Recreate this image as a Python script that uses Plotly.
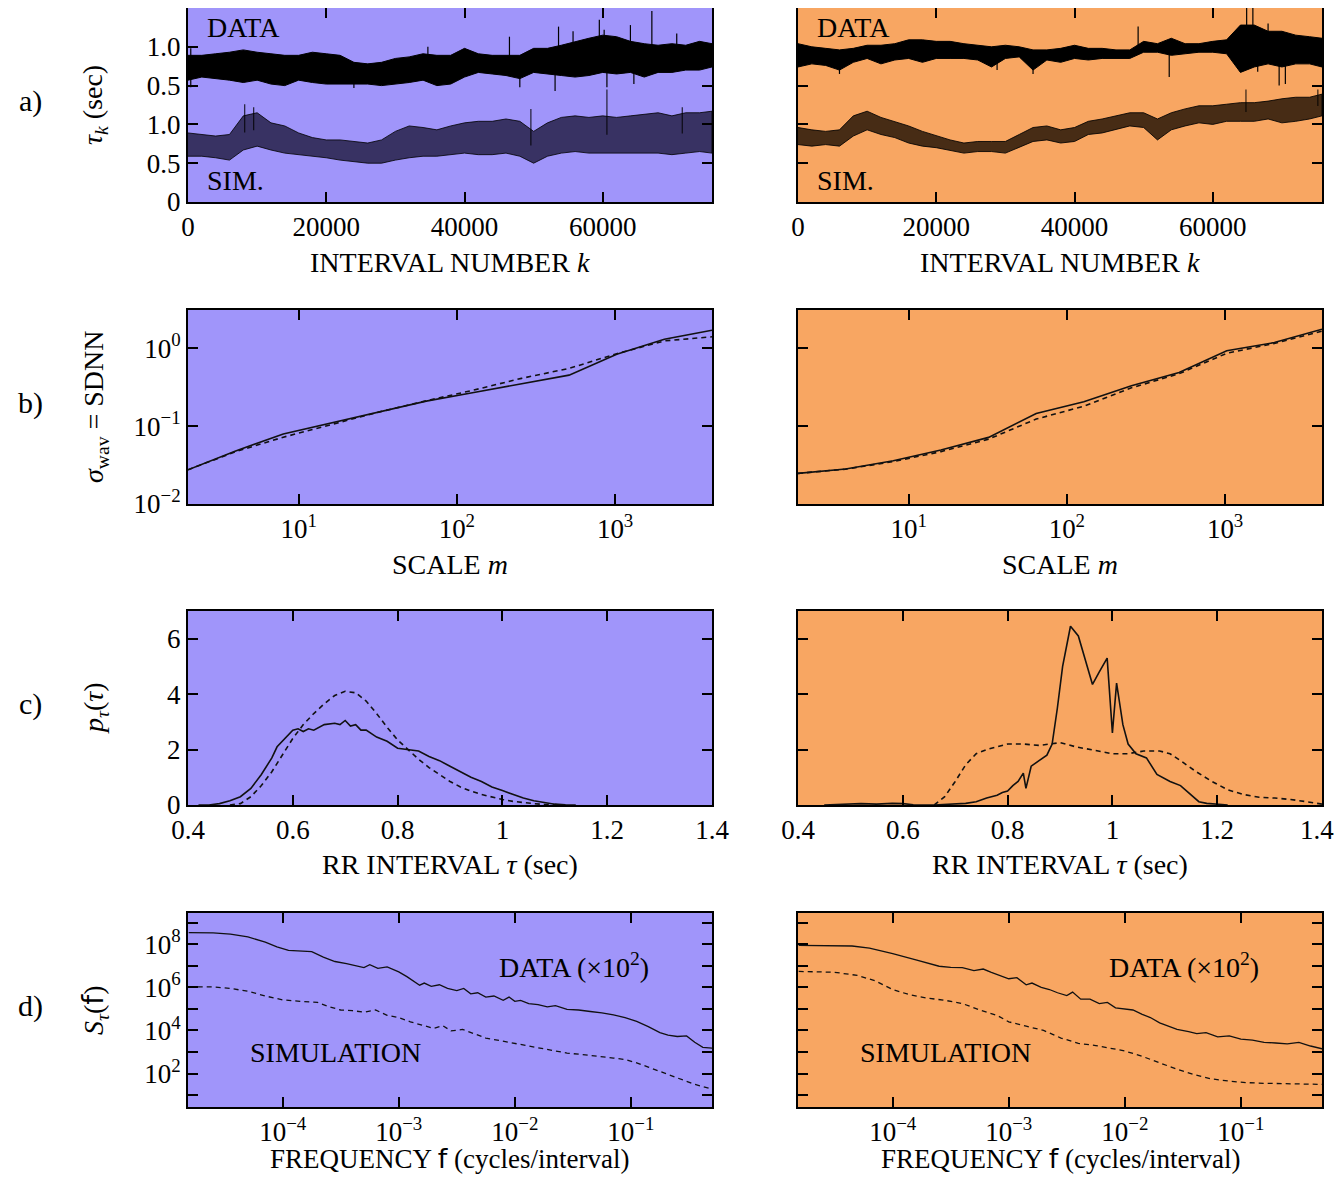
import numpy as np
import plotly.graph_objects as go
from plotly.subplots import make_subplots

# ---------------- a) interval series tau_k (sec), dense band envelopes ----------------
k_grid = list(range(0, 76000, 2000)) + [75800]
DATA_OFFSET = 1.0  # data trace drawn shifted up by 1 s

a_left_data_hi = [0.89, 0.89, 0.91, 0.93, 0.96, 0.93, 0.91, 0.89, 0.89, 0.93, 0.91, 0.89, 0.80, 0.78,
                  0.80, 0.85, 0.87, 0.91, 0.89, 0.89, 0.98, 0.91, 0.89, 0.89, 0.89, 0.98, 0.98, 1.02,
                  1.07, 1.11, 1.15, 1.13, 1.07, 1.04, 1.02, 1.04, 1.02, 1.07, 1.04]
a_left_data_lo = [0.57, 0.61, 0.59, 0.57, 0.54, 0.57, 0.52, 0.50, 0.57, 0.54, 0.52, 0.52, 0.52, 0.52,
                  0.50, 0.52, 0.54, 0.57, 0.50, 0.52, 0.61, 0.67, 0.65, 0.63, 0.59, 0.67, 0.65, 0.63,
                  0.61, 0.63, 0.67, 0.65, 0.67, 0.61, 0.67, 0.67, 0.70, 0.70, 0.74]
a_left_sim_hi = [0.89, 0.87, 0.85, 0.87, 1.11, 1.15, 1.02, 0.98, 0.89, 0.83, 0.80, 0.80, 0.78, 0.76,
                 0.80, 0.91, 0.98, 0.96, 0.93, 0.98, 1.02, 1.04, 1.04, 1.07, 1.04, 0.91, 1.02, 1.09,
                 1.11, 1.09, 1.11, 1.09, 1.11, 1.13, 1.15, 1.11, 1.15, 1.15, 1.17]
a_left_sim_lo = [0.59, 0.59, 0.57, 0.54, 0.67, 0.72, 0.67, 0.63, 0.61, 0.59, 0.57, 0.54, 0.52, 0.50,
                 0.50, 0.54, 0.57, 0.59, 0.59, 0.61, 0.63, 0.61, 0.61, 0.63, 0.59, 0.50, 0.59, 0.63,
                 0.65, 0.63, 0.63, 0.63, 0.63, 0.63, 0.63, 0.61, 0.63, 0.65, 0.63]
a_right_data_hi = [1.04, 1.00, 0.98, 0.96, 0.98, 1.02, 1.02, 1.04, 1.09, 1.09, 1.07, 1.07, 1.04, 1.02,
                   1.00, 1.02, 1.00, 0.96, 0.96, 0.98, 1.02, 0.98, 0.98, 0.96, 0.96, 1.07, 1.04, 1.11,
                   1.04, 1.04, 1.07, 1.09, 1.28, 1.28, 1.20, 1.20, 1.15, 1.13, 1.11]
a_right_data_lo = [0.74, 0.78, 0.76, 0.70, 0.80, 0.85, 0.78, 0.83, 0.85, 0.80, 0.85, 0.85, 0.85, 0.83,
                   0.74, 0.85, 0.87, 0.70, 0.83, 0.80, 0.85, 0.83, 0.85, 0.85, 0.85, 0.93, 0.93, 0.89,
                   0.91, 0.93, 0.93, 0.91, 0.67, 0.74, 0.78, 0.74, 0.78, 0.78, 0.74]
a_right_sim_hi = [0.96, 0.93, 0.91, 0.93, 1.11, 1.17, 1.09, 1.04, 0.98, 0.91, 0.85, 0.80, 0.76, 0.78,
                  0.78, 0.78, 0.87, 0.96, 0.98, 0.93, 0.96, 1.04, 1.07, 1.11, 1.15, 1.15, 1.07, 1.15,
                  1.20, 1.24, 1.24, 1.26, 1.28, 1.28, 1.30, 1.33, 1.35, 1.35, 1.39]
a_right_sim_lo = [0.74, 0.72, 0.74, 0.72, 0.85, 0.93, 0.87, 0.83, 0.76, 0.72, 0.70, 0.67, 0.63, 0.65,
                  0.65, 0.63, 0.70, 0.78, 0.80, 0.76, 0.78, 0.87, 0.89, 0.93, 0.98, 0.96, 0.80, 0.93,
                  0.98, 1.02, 1.00, 1.04, 1.04, 1.04, 1.07, 1.02, 1.04, 1.07, 1.11]

# isolated spikes (k, tip value in sec)
a_left_data_spk_k = [400, 400, 24000, 34700, 46500, 48000, 53100, 53600, 55700, 59500, 60200, 60600,
                     64000, 64500, 67100, 70700]
a_left_data_spk_tau = [0.48, 0.98, 0.47, 1.00, 1.13, 0.48, 0.43, 1.26, 1.20, 1.35, 1.22, 0.48,
                       1.28, 0.52, 1.46, 1.17]
a_left_sim_spk_k = [8200, 9500, 49600, 60600, 71500]
a_left_sim_spk_tau = [1.26, 1.22, 1.20, 1.45, 1.22]
a_right_data_spk_k = [6000, 28800, 34000, 49200, 53700, 64900, 65800, 66500, 68000, 69600, 70500]
a_right_data_spk_tau = [0.65, 0.70, 0.65, 1.26, 0.61, 1.50, 1.50, 0.68, 1.30, 0.50, 0.52]
a_right_sim_spk_k = [64800, 75200]
a_right_sim_spk_tau = [1.45, 1.45]

# ---------------- b) wavelet sigma vs scale m ----------------
m_scale = [2, 4, 8, 16, 32, 64, 128, 256, 512, 1024, 2048, 4096]
b_left_data = [0.0275, 0.048, 0.079, 0.109, 0.151, 0.209, 0.27, 0.349, 0.451, 0.838, 1.30, 1.70]
b_left_sim = [0.0275, 0.047, 0.072, 0.104, 0.151, 0.211, 0.29, 0.41, 0.55, 0.85, 1.24, 1.40]
b_right_data = [0.0247, 0.0281, 0.0359, 0.0492, 0.0716, 0.145, 0.205, 0.329, 0.488, 0.925, 1.18, 1.75]
b_right_sim = [0.0247, 0.028, 0.035, 0.047, 0.068, 0.123, 0.18, 0.31, 0.47, 0.86, 1.15, 1.65]

# ---------------- c) histograms p(tau) ----------------
c_left_data_tau = [0.42, 0.44, 0.46, 0.48, 0.50, 0.52, 0.54, 0.56, 0.57, 0.58, 0.60, 0.61, 0.62, 0.63,
                   0.64, 0.66, 0.68, 0.69, 0.70, 0.71, 0.72, 0.73, 0.74, 0.76, 0.78, 0.80, 0.82, 0.84,
                   0.86, 0.88, 0.90, 0.92, 0.94, 0.96, 0.98, 1.00, 1.02, 1.04, 1.06, 1.08, 1.10, 1.12, 1.14]
c_left_data_p = [0.0, 0.0, 0.05, 0.15, 0.3, 0.6, 1.1, 1.7, 2.1, 2.3, 2.7, 2.75, 2.65, 2.75,
                 2.7, 2.9, 2.95, 2.9, 3.05, 2.85, 2.9, 2.7, 2.7, 2.45, 2.3, 2.05, 2.0, 1.95,
                 1.75, 1.6, 1.4, 1.2, 1.0, 0.85, 0.65, 0.52, 0.38, 0.25, 0.15, 0.08, 0.03, 0.01, 0.0]
c_left_sim_tau = [0.48, 0.50, 0.52, 0.54, 0.56, 0.58, 0.60, 0.62, 0.64, 0.66, 0.68, 0.70, 0.72, 0.74,
                  0.76, 0.78, 0.80, 0.82, 0.84, 0.86, 0.88, 0.90, 0.92, 0.94, 0.96, 0.98, 1.00, 1.02,
                  1.04, 1.06, 1.08, 1.10, 1.12]
c_left_sim_p = [0.0, 0.05, 0.3, 0.7, 1.2, 1.8, 2.4, 2.9, 3.3, 3.65, 3.95, 4.1, 4.05, 3.75,
                3.3, 2.8, 2.35, 2.0, 1.65, 1.35, 1.1, 0.85, 0.65, 0.5, 0.38, 0.28, 0.2, 0.13,
                0.08, 0.05, 0.02, 0.01, 0.0]
c_right_data_tau = [0.45, 0.50, 0.52, 0.55, 0.58, 0.60, 0.62, 0.66, 0.70, 0.72, 0.74, 0.76, 0.78, 0.79,
                    0.80, 0.81, 0.82, 0.83, 0.835, 0.845, 0.86, 0.875, 0.885, 0.895, 0.905, 0.92, 0.935,
                    0.95, 0.962, 0.975, 0.99, 1.0, 1.008, 1.02, 1.03, 1.045, 1.065, 1.085, 1.11, 1.13,
                    1.15, 1.165, 1.18, 1.20, 1.22]
c_right_data_p = [0.0, 0.02, 0.05, 0.03, 0.06, 0.05, 0.01, 0.0, 0.05, 0.06, 0.12, 0.25, 0.35, 0.45,
                  0.5, 0.7, 0.85, 1.15, 0.6, 1.4, 1.6, 1.8, 2.2, 3.5, 5.0, 6.45, 6.1,
                  5.1, 4.35, 4.8, 5.3, 2.6, 4.4, 2.9, 2.2, 1.85, 1.7, 1.1, 0.85, 0.7,
                  0.35, 0.12, 0.06, 0.03, 0.0]
c_right_sim_tau = [0.66, 0.68, 0.70, 0.72, 0.74, 0.76, 0.78, 0.80, 0.83, 0.86, 0.88, 0.90, 0.93, 0.96,
                   1.00, 1.03, 1.06, 1.09, 1.11, 1.13, 1.16, 1.19, 1.22, 1.25, 1.28, 1.31, 1.34, 1.37, 1.40]
c_right_sim_p = [0.0, 0.3, 0.85, 1.45, 1.85, 2.0, 2.1, 2.2, 2.2, 2.15, 2.2, 2.25, 2.1, 2.0,
                 1.85, 1.85, 1.95, 1.95, 1.85, 1.6, 1.2, 0.85, 0.55, 0.38, 0.28, 0.25, 0.2, 0.12, 0.03]

# ---------------- d) power spectra (log10 f, log10 S) ----------------
d_left_data_lf = [-4.81, -4.6, -4.45, -4.3, -4.15, -4.05, -3.95, -3.85, -3.75, -3.65, -3.55, -3.45, -3.38,
                  -3.3, -3.25, -3.18, -3.1, -3.0, -2.93, -2.88, -2.82, -2.78, -2.72, -2.65, -2.58, -2.5,
                  -2.44, -2.38, -2.32, -2.25, -2.18, -2.1, -2.05, -2.0, -1.95, -1.88, -1.8, -1.72, -1.65,
                  -1.55, -1.45, -1.35, -1.25, -1.15, -1.05, -0.95, -0.85, -0.75, -0.68, -0.6, -0.52,
                  -0.45, -0.38, -0.30]
d_left_data_ls = [8.54, 8.53, 8.47, 8.34, 8.1, 7.88, 7.72, 7.69, 7.66, 7.4, 7.2, 7.1, 7.0,
                  6.92, 7.05, 6.88, 6.95, 6.72, 6.5, 6.3, 6.1, 6.2, 6.05, 6.12, 5.95, 5.85,
                  5.95, 5.7, 5.75, 5.55, 5.6, 5.4, 5.55, 5.35, 5.4, 5.25, 5.2, 5.1, 5.15,
                  4.98, 4.95, 4.88, 4.82, 4.72, 4.6, 4.42, 4.18, 3.9, 3.78, 3.72, 3.75,
                  3.45, 3.22, 3.18]
d_left_sim_lf = [-4.81, -4.6, -4.45, -4.3, -4.15, -4.0, -3.85, -3.7, -3.6, -3.5, -3.4, -3.3, -3.2, -3.1,
                 -3.0, -2.9, -2.8, -2.7, -2.62, -2.55, -2.45, -2.35, -2.25, -2.15, -2.05, -1.95, -1.85,
                 -1.75, -1.65, -1.55, -1.45, -1.35, -1.25, -1.15, -1.05, -0.95, -0.85, -0.75, -0.65,
                 -0.55, -0.45, -0.3]
d_left_sim_ls = [6.02, 6.02, 5.95, 5.82, 5.6, 5.42, 5.35, 5.3, 5.1, 4.95, 4.92, 4.85, 4.95, 4.7,
                 4.6, 4.4, 4.25, 4.1, 4.22, 3.98, 4.05, 3.85, 3.65, 3.55, 3.45, 3.35, 3.25,
                 3.15, 3.05, 2.95, 2.9, 2.85, 2.78, 2.72, 2.65, 2.5, 2.3, 2.1, 1.9,
                 1.7, 1.5, 1.28]
d_right_data_lf = [-4.81, -4.5, -4.35, -4.2, -4.0, -3.8, -3.6, -3.5, -3.4, -3.3, -3.22, -3.15, -3.05, -3.0,
                   -2.93, -2.85, -2.8, -2.72, -2.65, -2.58, -2.5, -2.45, -2.38, -2.3, -2.22, -2.15, -2.08,
                   -2.0, -1.93, -1.85, -1.78, -1.7, -1.62, -1.55, -1.45, -1.38, -1.3, -1.2, -1.1, -1.0,
                   -0.9, -0.8, -0.7, -0.6, -0.5, -0.4, -0.3]
d_right_data_ls = [7.95, 7.94, 7.92, 7.82, 7.57, 7.28, 6.98, 6.93, 6.92, 6.78, 6.85, 6.7, 6.5, 6.4,
                   6.45, 6.12, 6.2, 6.0, 5.9, 5.75, 5.62, 5.78, 5.45, 5.45, 5.25, 5.3, 5.05,
                   5.0, 4.95, 4.75, 4.6, 4.35, 4.2, 4.05, 3.95, 3.85, 3.9, 3.7, 3.75, 3.6,
                   3.55, 3.45, 3.42, 3.38, 3.45, 3.28, 3.15]
d_right_sim_lf = [-4.81, -4.5, -4.3, -4.15, -4.0, -3.85, -3.7, -3.55, -3.4, -3.25, -3.1, -3.0, -2.85, -2.7,
                  -2.55, -2.4, -2.25, -2.1, -2.0, -1.85, -1.7, -1.55, -1.4, -1.25, -1.1, -0.95, -0.8,
                  -0.6, -0.3]
d_right_sim_ls = [6.74, 6.7, 6.55, 6.3, 5.9, 5.65, 5.5, 5.4, 5.25, 4.95, 4.7, 4.4, 4.2, 4.0,
                  3.65, 3.4, 3.3, 3.15, 3.05, 2.8, 2.5, 2.2, 1.95, 1.75, 1.65, 1.58, 1.55,
                  1.52, 1.5]

PURPLE = "#a095fa"
ORANGE = "#f8a662"
FONT = "Liberation Serif, DejaVu Serif, serif"
PAGE_OFF = 8            # body margin of the html page
W, H = 1328, 1166       # figure size so that it fits the 1344x1182 window


def px(x):
    return (x - PAGE_OFF) / W


def py(y):
    return 1 - (y - PAGE_OFF) / H


col_px = [(188, 712), (798, 1322)]
row_px = [(8, 202), (310, 504), (611, 805), (913, 1107)]

fig = make_subplots(rows=4, cols=2)


def band(k, hi, lo, offset, fillcolor, edge, r, c):
    hi = [v + offset for v in hi]
    lo = [v + offset for v in lo]
    fig.add_trace(go.Scatter(x=list(k) + list(k)[::-1], y=hi + lo[::-1], mode="lines", fill="toself",
                             fillcolor=fillcolor, line=dict(color=edge, width=1)), row=r, col=c)


def spikes(k, hi, lo, spk_k, spk_tau, offset, color, r, c):
    mid = (np.array(hi) + np.array(lo)) / 2 + offset
    xs, ys = [], []
    for kk, tt in zip(spk_k, spk_tau):
        xs += [kk, kk, None]
        ys += [float(np.interp(kk, k, mid)), tt + offset, None]
    fig.add_trace(go.Scatter(x=xs, y=ys, mode="lines", line=dict(color=color, width=1.2)), row=r, col=c)


# row a
band(k_grid, a_left_data_hi, a_left_data_lo, DATA_OFFSET, "black", "black", 1, 1)
spikes(k_grid, a_left_data_hi, a_left_data_lo, a_left_data_spk_k, a_left_data_spk_tau, DATA_OFFSET, "black", 1, 1)
band(k_grid, a_left_sim_hi, a_left_sim_lo, 0, "rgba(15,12,40,0.72)", "rgba(0,0,0,0.8)", 1, 1)
spikes(k_grid, a_left_sim_hi, a_left_sim_lo, a_left_sim_spk_k, a_left_sim_spk_tau, 0, "rgba(0,0,0,0.8)", 1, 1)
band(k_grid, a_right_data_hi, a_right_data_lo, DATA_OFFSET, "black", "black", 1, 2)
spikes(k_grid, a_right_data_hi, a_right_data_lo, a_right_data_spk_k, a_right_data_spk_tau, DATA_OFFSET, "black", 1, 2)
band(k_grid, a_right_sim_hi, a_right_sim_lo, 0, "rgba(20,10,0,0.78)", "rgba(0,0,0,0.85)", 1, 2)
spikes(k_grid, a_right_sim_hi, a_right_sim_lo, a_right_sim_spk_k, a_right_sim_spk_tau, 0, "rgba(0,0,0,0.8)", 1, 2)

solid = dict(color="#111", width=1.6)
dashed = dict(color="#111", width=1.6, dash="5px,4px")

# row b
fig.add_trace(go.Scatter(x=m_scale, y=b_left_data, mode="lines", line=solid), row=2, col=1)
fig.add_trace(go.Scatter(x=m_scale, y=b_left_sim, mode="lines", line=dashed), row=2, col=1)
fig.add_trace(go.Scatter(x=m_scale, y=b_right_data, mode="lines", line=solid), row=2, col=2)
fig.add_trace(go.Scatter(x=m_scale, y=b_right_sim, mode="lines", line=dashed), row=2, col=2)

# row c
fig.add_trace(go.Scatter(x=c_left_data_tau, y=c_left_data_p, mode="lines", line=solid), row=3, col=1)
fig.add_trace(go.Scatter(x=c_left_sim_tau, y=c_left_sim_p, mode="lines", line=dashed), row=3, col=1)
fig.add_trace(go.Scatter(x=c_right_data_tau, y=c_right_data_p, mode="lines", line=solid), row=3, col=2)
fig.add_trace(go.Scatter(x=c_right_sim_tau, y=c_right_sim_p, mode="lines", line=dashed), row=3, col=2)

# row d
for lf, ls, ln, c in [(d_left_data_lf, d_left_data_ls, solid, 1), (d_left_sim_lf, d_left_sim_ls, dashed, 1),
                      (d_right_data_lf, d_right_data_ls, solid, 2), (d_right_sim_lf, d_right_sim_ls, dashed, 2)]:
    fig.add_trace(go.Scatter(x=10 ** np.array(lf), y=10 ** np.array(ls), mode="lines",
                             line=dict(ln, width=1.3)), row=4, col=c)

tickfont = dict(family=FONT, size=27, color="black")
axis_common = dict(showline=True, linecolor="black", linewidth=2, mirror="ticks", ticks="inside",
                   ticklen=10, tickwidth=2, tickcolor="black", showgrid=False, zeroline=False,
                   tickfont=tickfont, automargin=False)

sup = lambda e: "10<sup>%s</sup>" % e

for r in range(4):
    for c in range(2):
        n = r * 2 + c + 1
        xa = dict(axis_common, domain=[px(col_px[c][0]), px(col_px[c][1])])
        ya = dict(axis_common, domain=[py(row_px[r][1]), py(row_px[r][0])])
        if r == 0:
            xa.update(range=[0, 75800], tickvals=[0, 20000, 40000, 60000],
                      ticktext=["0", "20000", "40000", "60000"])
            ya.update(range=[0, 2.5], tickvals=[0, 0.5, 1.0, 1.5, 2.0],
                      ticktext=["0", "0.5", "1.0", "0.5", "1.0"])
        elif r == 1:
            xa.update(type="log", range=[np.log10(2), np.log10(4096)], tickvals=[10, 100, 1000],
                      ticktext=[sup(1), sup(2), sup(3)])
            ya.update(type="log", range=[-2, 0.49], tickvals=[0.01, 0.1, 1],
                      ticktext=[sup("−2"), sup("−1"), sup(0)])
        elif r == 2:
            # the last label of the right panel would be clipped at the page edge -> annotation
            last = "1.4" if c == 0 else ""
            xa.update(range=[0.4, 1.4], tickvals=[0.4, 0.6, 0.8, 1.0, 1.2, 1.4],
                      ticktext=["0.4", "0.6", "0.8", "1", "1.2", last])
            ya.update(range=[0, 7], tickvals=[0, 2, 4, 6], ticktext=["0", "2", "4", "6"])
        else:
            xa.update(type="log", range=[-4.816, -0.301], tickvals=[1e-4, 1e-3, 1e-2, 1e-1],
                      ticktext=[sup("−4"), sup("−3"), sup("−2"), sup("−1")])
            ya.update(type="log", range=[0.45, 9.45], tickvals=[10 ** e for e in range(1, 10)],
                      ticktext=["" if e % 2 else sup(e) for e in range(1, 10)])
        if c == 1:
            ya.update(showticklabels=False)
        fig.layout["xaxis%s" % ("" if n == 1 else n)].update(xa)
        fig.layout["yaxis%s" % ("" if n == 1 else n)].update(ya)

# panel backgrounds
shapes = []
for r in range(4):
    for c in range(2):
        shapes.append(dict(type="rect", xref="paper", yref="paper", layer="below", line=dict(width=0),
                           x0=px(col_px[c][0]), x1=px(col_px[c][1]), y0=py(row_px[r][1]), y1=py(row_px[r][0]),
                           fillcolor=PURPLE if c == 0 else ORANGE))

ann = []


def text(x, y, s, size=28, angle=0, xanchor="center"):
    ann.append(dict(x=px(x), y=py(y), xref="paper", yref="paper", text=s, showarrow=False,
                    textangle=angle, xanchor=xanchor, yanchor="middle",
                    font=dict(family=FONT, size=size, color="black")))


sans_f = '<span style="font-family:DejaVu Sans">f</span>'
xtitles = [("INTERVAL NUMBER <i>k</i>", 263, 28), ("SCALE <i>m</i>", 565, 28),
           ("RR INTERVAL <i>τ</i> (sec)", 864, 28),
           ("FREQUENCY " + sans_f + " (cycles/interval)", 1158, 27)]
for s, y, sz in xtitles:
    for c in range(2):
        text((col_px[c][0] + col_px[c][1]) / 2, y, s, size=sz)

ytitles = ["<i>τ<sub>k</sub></i> (sec)", "<i>σ</i><sub>wav</sub> = SDNN",
           "<i>p<sub>τ</sub></i>(<i>τ</i>)", "<i>S<sub>τ</sub></i>(" + sans_f + ")"]
for r, s in enumerate(ytitles):
    yc = (row_px[r][0] + row_px[r][1]) / 2
    text(95, yc, s, angle=-90)
    text(30, yc - 4, "abcd"[r] + ")", size=30)

for c in range(2):
    x0 = col_px[c][0]
    text(x0 + 17, 28, "DATA", xanchor="left")
    text(x0 + 17, 180, "SIM.", xanchor="left")
    text(x0 + 309, 965, "DATA (×10<sup>2</sup>)", xanchor="left")
    text(x0 + 60, 1052, "SIMULATION", xanchor="left")

# last x tick label of right histogram panel, kept inside the page
text(1336, 830, "1.4", size=27, xanchor="right")

fig.update_layout(width=W, height=H, margin=dict(l=0, r=0, t=0, b=0), showlegend=False,
                  paper_bgcolor="white", plot_bgcolor="rgba(0,0,0,0)", shapes=shapes, annotations=ann)

fig.write_html("out.html")
